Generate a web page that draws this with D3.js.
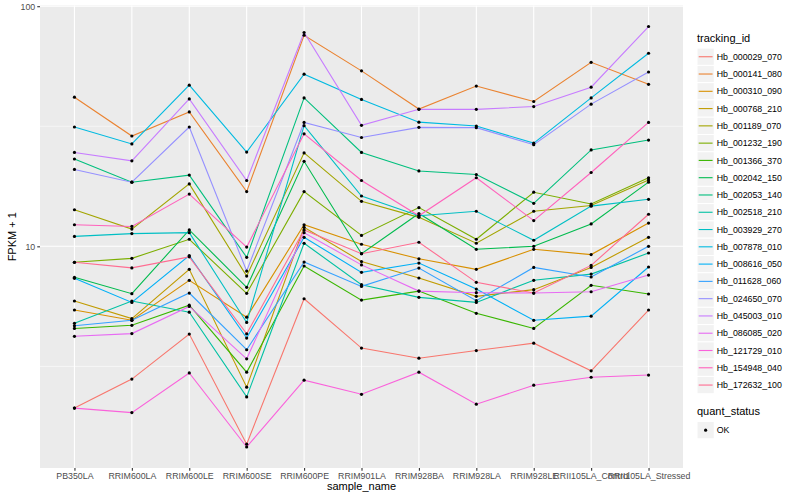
<!DOCTYPE html>
<html lang="en">
<head>
  <meta charset="UTF-8">
  <title>FPKM + 1 by sample_name</title>
  <script src="https://d3js.org/d3.v7.min.js"></script>
  <style>
    body { margin: 0; background: #fff; }
    text { font-family: "Liberation Sans", Arial, Helvetica, sans-serif; }
  </style>
</head>
<body>
  <svg width="800" height="500"></svg>

  <script>
    // sample names (x categories)
    const samples = ["PB350LA", "RRIM600LA", "RRIM600LE", "RRIM600SE", "RRIM600PE", "RRIM901LA",
                     "RRIM928BA", "RRIM928LA", "RRIM928LE", "RRII105LA_Control", "RRII105LA_Stressed"];

    const trackingIds = ["Hb_000029_070", "Hb_000141_080", "Hb_000310_090", "Hb_000768_210", "Hb_001189_070",
                         "Hb_001232_190", "Hb_001366_370", "Hb_002042_150", "Hb_002053_140", "Hb_002518_210",
                         "Hb_003929_270", "Hb_007878_010", "Hb_008616_050", "Hb_011628_060", "Hb_024650_070",
                         "Hb_045003_010", "Hb_086085_020", "Hb_121729_010", "Hb_154948_040", "Hb_172632_100"];

    // ggplot hue palette for 20 levels
    const colors = ["#F8766D", "#EA8331", "#D89000", "#C09B00", "#A3A500", "#7CAE00", "#39B600", "#00BB4E",
                    "#00BF7D", "#00C1A3", "#00BFC4", "#00BAE0", "#00B0F6", "#35A2FF", "#9590FF", "#C77CFF",
                    "#E76BF3", "#FA62DB", "#FF62BC", "#FF6C91"];

    // FPKM + 1, one value per sample
    const hb_000029_070 = [2.12, 2.80, 4.31, 1.50, 6.05, 3.77, 3.42, 3.68, 3.95, 3.03, 5.43];
    const hb_000141_080 = [41.8, 28.8, 36.3, 16.9, 75.7, 53.8, 37.3, 46.5, 40.1, 58.4, 47.3];
    const hb_000310_090 = [5.43, 4.92, 7.22, 5.07, 12.3, 10.2, 8.87, 8.02, 9.72, 9.24, 12.5];
    const hb_000768_210 = [5.92, 5.00, 8.02, 2.59, 12.0, 8.64, 7.38, 6.19, 6.60, 8.17, 10.9];
    const hb_001189_070 = [14.2, 11.8, 18.2, 7.52, 24.5, 15.4, 13.2, 10.3, 14.0, 14.8, 18.9];
    const hb_001232_190 = [8.58, 8.91, 10.7, 6.37, 16.9, 11.1, 14.5, 10.7, 16.8, 15.0, 19.3];
    const hb_001366_370 = [4.55, 4.69, 5.69, 2.99, 8.28, 5.97, 6.51, 5.26, 4.55, 6.88, 6.33];
    const hb_002042_150 = [7.43, 6.35, 11.7, 6.75, 22.6, 9.32, 13.7, 9.72, 10.0, 12.4, 18.5];
    const hb_002053_140 = [23.1, 18.5, 19.8, 9.00, 41.5, 24.6, 20.6, 19.9, 15.1, 25.2, 27.7];
    const hb_002518_210 = [4.78, 5.92, 5.32, 2.36, 10.3, 6.92, 6.13, 5.84, 7.22, 7.66, 9.38];
    const hb_003929_270 = [11.0, 11.3, 11.4, 4.82, 31.8, 16.2, 13.4, 14.0, 10.6, 14.7, 15.7];
    const hb_007878_010 = [31.4, 26.7, 46.9, 24.7, 52.1, 40.9, 32.9, 31.7, 26.9, 41.5, 63.7];
    const hb_008616_050 = [7.36, 5.84, 9.15, 4.15, 10.9, 7.79, 8.52, 6.64, 4.92, 5.12, 8.20];
    const hb_011628_060 = [4.67, 4.92, 6.39, 3.71, 8.60, 6.81, 8.12, 5.94, 8.17, 7.45, 10.0];
    const hb_024650_070 = [20.9, 18.5, 31.4, 7.89, 32.8, 28.4, 31.3, 31.2, 26.5, 39.1, 53.2];
    const hb_045003_010 = [24.6, 22.7, 41.1, 18.8, 77.7, 31.9, 37.2, 37.2, 38.2, 46.0, 82.3];
    const hb_086085_020 = [4.22, 4.33, 5.62, 3.40, 11.4, 8.37, 6.51, 6.41, 6.39, 6.47, 7.59];
    const hb_121729_010 = [2.12, 2.03, 2.97, 1.46, 2.77, 2.42, 2.99, 2.20, 2.64, 2.85, 2.91];
    const hb_154948_040 = [12.3, 12.1, 16.5, 9.93, 29.4, 18.8, 13.4, 19.3, 12.8, 20.3, 32.8];
    const hb_172632_100 = [8.58, 8.13, 9.04, 4.32, 11.7, 9.32, 10.4, 7.08, 6.39, 8.33, 13.6];

    const seriesValues = [hb_000029_070, hb_000141_080, hb_000310_090, hb_000768_210, hb_001189_070,
                          hb_001232_190, hb_001366_370, hb_002042_150, hb_002053_140, hb_002518_210,
                          hb_003929_270, hb_007878_010, hb_008616_050, hb_011628_060, hb_024650_070,
                          hb_045003_010, hb_086085_020, hb_121729_010, hb_154948_040, hb_172632_100];

    const yTicks = [10, 100];
    const yMinor = [Math.pow(10, 0.5), Math.pow(10, 1.5)];

    const svg = d3.select("svg");
    const panel = { left: 40, right: 683, top: 5.5, bottom: 468 };

    const series = trackingIds.map((id, i) => ({
      id: id,
      color: colors[i],
      points: samples.map((s, j) => ({ sample: s, value: seriesValues[i][j] }))
    }));

    // x: discrete scale with ggplot's 0.6 expansion
    const x = d3.scalePoint()
                .domain(samples)
                .range([panel.left, panel.right])
                .padding(0.6);

    // y: log10 with 5% expansion in log space
    const allValues = seriesValues.flat();
    const lo = Math.log10(d3.min(allValues)), hi = Math.log10(d3.max(allValues));
    const pad = (hi - lo) * 0.05;
    const y = d3.scaleLog()
                .domain([Math.pow(10, lo - pad), Math.pow(10, hi + pad)])
                .range([panel.bottom, panel.top]);

    // panel background
    svg.append("rect")
       .attr("x", panel.left).attr("y", panel.top)
       .attr("width", panel.right - panel.left).attr("height", panel.bottom - panel.top)
       .attr("fill", "#EBEBEB");

    const grid = svg.append("g").attr("stroke", "#fff");
    grid.selectAll(".minor").data(yMinor).enter().append("line")
        .attr("x1", panel.left).attr("x2", panel.right)
        .attr("y1", d => y(d)).attr("y2", d => y(d))
        .attr("stroke-width", 0.55);
    grid.selectAll(".major-y").data(yTicks).enter().append("line")
        .attr("x1", panel.left).attr("x2", panel.right)
        .attr("y1", d => y(d)).attr("y2", d => y(d))
        .attr("stroke-width", 1.1);
    grid.selectAll(".major-x").data(samples).enter().append("line")
        .attr("x1", d => x(d)).attr("x2", d => x(d))
        .attr("y1", panel.top).attr("y2", panel.bottom)
        .attr("stroke-width", 1.1);

    // lines
    const line = d3.line()
                   .x(d => x(d.sample))
                   .y(d => y(d.value));

    svg.append("g").selectAll("path")
       .data(series).enter().append("path")
       .attr("d", d => line(d.points))
       .attr("fill", "none")
       .attr("stroke", d => d.color)
       .attr("stroke-width", 1.1);

    // points (quant_status = OK)
    svg.append("g").selectAll("g")
       .data(series).enter().append("g")
       .selectAll("circle")
       .data(d => d.points).enter().append("circle")
       .attr("cx", d => x(d.sample))
       .attr("cy", d => y(d.value))
       .attr("r", 1.6)
       .attr("fill", "#000");

    // axes
    const xAxis = svg.append("g")
                     .attr("transform", "translate(0," + panel.bottom + ")")
                     .call(d3.axisBottom(x).tickSize(2.75).tickPadding(2));
    const yAxis = svg.append("g")
                     .attr("transform", "translate(" + panel.left + ",0)")
                     .call(d3.axisLeft(y).tickValues(yTicks).tickFormat(d3.format("d")).tickSize(2.75).tickPadding(2));

    [xAxis, yAxis].forEach(a => {
      a.select(".domain").remove();
      a.selectAll(".tick line").attr("stroke", "#333").attr("stroke-width", 1.1);
      a.selectAll(".tick text").attr("fill", "#4D4D4D").style("font-size", "8.8px")
       .style("font-family", "'Liberation Sans', Arial, sans-serif");
    });

    // axis titles
    svg.append("text")
       .attr("x", (panel.left + panel.right) / 2).attr("y", 490)
       .attr("text-anchor", "middle")
       .style("font-size", "11px")
       .text("sample_name");

    svg.append("text")
       .attr("transform", "translate(16," + (panel.top + panel.bottom) / 2 + ") rotate(-90)")
       .attr("text-anchor", "middle")
       .style("font-size", "11px")
       .text("FPKM + 1");

    // legend: tracking_id
    const legend = svg.append("g").attr("transform", "translate(697,0)");
    const keySize = 17.28, keyTop = 48.1;

    legend.append("text")
          .attr("x", 0).attr("y", 42)
          .style("font-size", "11px")
          .text("tracking_id");

    const items = legend.selectAll(".item")
                        .data(series).enter().append("g")
                        .attr("transform", (d, i) => "translate(0," + (keyTop + i * keySize) + ")");
    items.append("rect")
         .attr("width", keySize).attr("height", keySize)
         .attr("fill", "#F2F2F2").attr("stroke", "#fff").attr("stroke-width", 1);
    items.append("line")
         .attr("x1", 1.7).attr("x2", keySize - 1.7)
         .attr("y1", keySize / 2).attr("y2", keySize / 2)
         .attr("stroke", d => d.color).attr("stroke-width", 1.1);
    items.append("text")
         .attr("x", keySize + 2.5).attr("y", keySize / 2 + 3.1)
         .style("font-size", "8.8px")
         .text(d => d.id);

    // legend: quant_status
    legend.append("text")
          .attr("x", 0).attr("y", 415)
          .style("font-size", "11px")
          .text("quant_status");
    const ok = legend.append("g").attr("transform", "translate(0,421.5)");
    ok.append("rect")
      .attr("width", keySize).attr("height", keySize)
      .attr("fill", "#F2F2F2").attr("stroke", "#fff").attr("stroke-width", 1);
    ok.append("circle")
      .attr("cx", keySize / 2).attr("cy", keySize / 2).attr("r", 1.6).attr("fill", "#000");
    ok.append("text")
      .attr("x", keySize + 2.5).attr("y", keySize / 2 + 3.1)
      .style("font-size", "8.8px")
      .text("OK");
  </script>
</body>
</html>
